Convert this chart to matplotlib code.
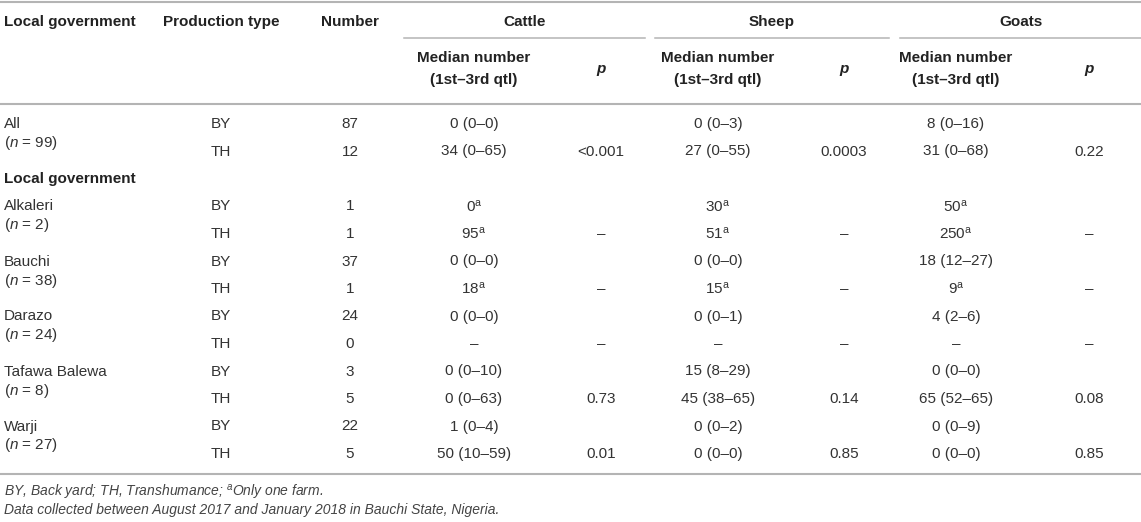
import matplotlib.pyplot as plt

plt.rcParams['font.family'] = ['Liberation Sans', 'DejaVu Sans']
plt.rcParams['mathtext.fontset'] = 'custom'
plt.rcParams['mathtext.rm'] = 'Liberation Sans'
plt.rcParams['mathtext.it'] = 'Liberation Sans:italic'
plt.rcParams['mathtext.bf'] = 'Liberation Sans:bold'

# table content
groups = ["All", "Alkaleri", "Bauchi", "Darazo", "Tafawa Balewa", "Warji"]
group_n = [99, 2, 38, 24, 8, 27]
prod_types = ["BY", "TH"]
numbers = [87, 12, 1, 1, 37, 1, 24, 0, 3, 5, 22, 5]
cattle = ["0 (0–0)", "34 (0–65)", "0", "95", "0 (0–0)", "18", "0 (0–0)", "–",
          "0 (0–10)", "0 (0–63)", "1 (0–4)", "50 (10–59)"]
sheep = ["0 (0–3)", "27 (0–55)", "30", "51", "0 (0–0)", "15", "0 (0–1)", "–",
         "15 (8–29)", "45 (38–65)", "0 (0–2)", "0 (0–0)"]
goats = ["8 (0–16)", "31 (0–68)", "50", "250", "18 (12–27)", "9", "4 (2–6)", "–",
         "0 (0–0)", "65 (52–65)", "0 (0–9)", "0 (0–0)"]
cattle_p = ["<0.001", "–", "–", "–", "0.73", "0.01"]
sheep_p = ["0.0003", "–", "–", "–", "0.14", "0.85"]
goats_p = ["0.22", "–", "–", "–", "0.08", "0.85"]
single_farm = [2, 3, 5]  # rows with data from only one farm
species = ["Cattle", "Sheep", "Goats"]

footnote1 = r"BY, Back yard; TH, Transhumance; $^{a}$Only one farm."
footnote2 = "Data collected between August 2017 and January 2018 in Bauchi State, Nigeria."

W, H = 1141, 522
fig = plt.figure(figsize=(W / 100, H / 100), dpi=100)
ax = fig.add_axes([0, 0, 1, 1])
ax.set_xlim(0, W)
ax.set_ylim(H, 0)
ax.axis('off')

fs = 11
txt = '#333333'
hdr = '#222222'
rule = '#b4b4b4'

x_lg = 4
x_prod = 221
x_num = 350
med_x = [474, 718, 956]
p_x = [601, 844, 1089]
span = [(404, 645), (655, 889), (900, 1141)]

# rules
ax.plot([0, W], [2, 2], color=rule, lw=1.5)
ax.plot([0, W], [104, 104], color=rule, lw=1.5)
ax.plot([0, W], [474, 474], color=rule, lw=1.5)
for a, b in span:
    ax.plot([a, b], [38, 38], color=rule, lw=1.1)

# header
ax.text(x_lg, 22, "Local government", fontsize=fs, fontweight='bold', color=hdr, va='center')
ax.text(163, 22, "Production type", fontsize=fs, fontweight='bold', color=hdr, va='center')
ax.text(x_num, 22, "Number", fontsize=fs, fontweight='bold', color=hdr, va='center', ha='center')
for i, sp in enumerate(species):
    ax.text((span[i][0] + span[i][1]) / 2, 22, sp, fontsize=fs, fontweight='bold',
            color=hdr, va='center', ha='center')
    ax.text(med_x[i], 58, "Median number", fontsize=fs, fontweight='bold', color=hdr,
            va='center', ha='center')
    ax.text(med_x[i], 80, "(1st–3rd qtl)", fontsize=fs, fontweight='bold', color=hdr,
            va='center', ha='center')
    ax.text(p_x[i], 69, "p", fontsize=fs, fontweight='bold', fontstyle='italic',
            color=hdr, va='center', ha='center')

# body
y0, dy = 124, 27.5
row_y = []
for g in range(len(groups)):
    slot = 2 * g if g == 0 else 2 * g + 1
    row_y += [y0 + slot * dy, y0 + (slot + 1) * dy]
ax.text(x_lg, y0 + 2 * dy, "Local government", fontsize=fs, fontweight='bold',
        color=hdr, va='center')

for g, name in enumerate(groups):
    yb = row_y[2 * g]
    ax.text(x_lg, yb, name, fontsize=fs, color=txt, va='center')
    ax.text(x_lg, yb + 19, r"($\mathit{n}$ = %d)" % group_n[g], fontsize=fs,
            color=txt, va='center')
    yt = row_y[2 * g + 1]
    for pcol, vals in zip(p_x, [cattle_p, sheep_p, goats_p]):
        ax.text(pcol, yt, vals[g], fontsize=fs, color=txt, va='center', ha='center')

for r, y in enumerate(row_y):
    ax.text(x_prod, y, prod_types[r % 2], fontsize=fs, color=txt, va='center', ha='center')
    ax.text(x_num, y, str(numbers[r]), fontsize=fs, color=txt, va='center', ha='center')
    for mcol, vals in zip(med_x, [cattle, sheep, goats]):
        s = vals[r]
        if r in single_farm:
            s = s + r"$^{\mathrm{a}}$"
        ax.text(mcol, y, s, fontsize=fs, color=txt, va='center', ha='center')

# footnotes
ax.text(x_lg, 492, footnote1, fontsize=10, fontstyle='italic', color='#444444', va='center')
ax.text(x_lg, 510, footnote2, fontsize=10, fontstyle='italic', color='#444444', va='center')

fig.savefig('out.png', dpi=100)
